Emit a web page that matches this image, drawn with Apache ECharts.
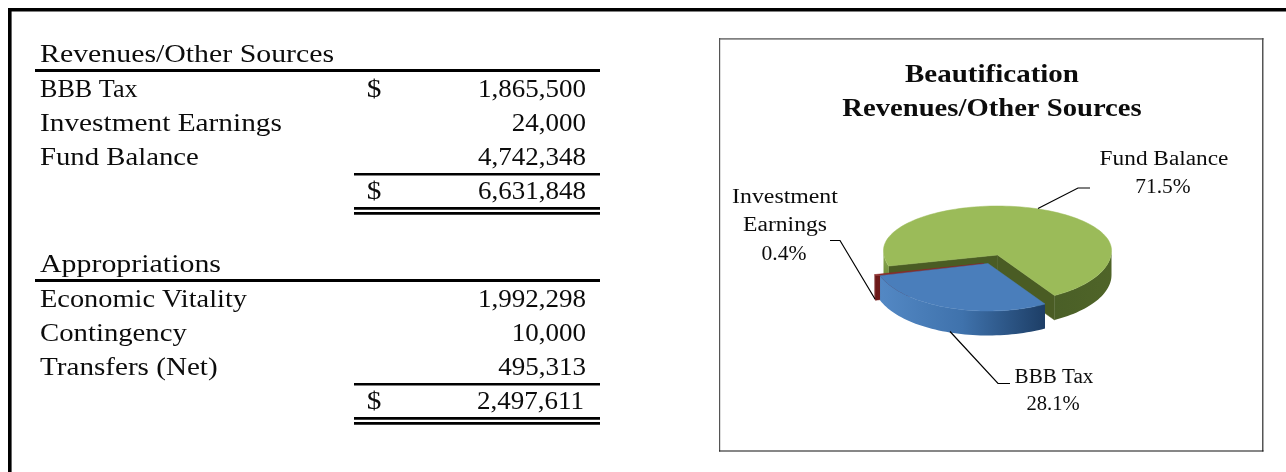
<!DOCTYPE html>
<html>
<head>
<meta charset="utf-8">
<style>html,body{margin:0;padding:0;background:#fff}#c{width:1286px;height:472px}</style>
<script src="https://cdn.jsdelivr.net/npm/echarts@6/dist/echarts.min.js"></script>
</head>
<body>
<div id="c"></div>
<script>
// ---- data ----
const revenueTitle = 'Revenues/Other Sources';
const revenueLabels = ['BBB Tax', 'Investment Earnings', 'Fund Balance'];
const revenueValues = [1865500, 24000, 4742348];
const appropriationTitle = 'Appropriations';
const appropriationLabels = ['Economic Vitality', 'Contingency', 'Transfers (Net)'];
const appropriationValues = [1992298, 10000, 495313];
const chartTitleLines = ['Beautification', 'Revenues/Other Sources'];
const pieLabelLines = [['BBB Tax'], ['Investment', 'Earnings'], ['Fund Balance']];

// ---- styles ----
const FONT = '"Liberation Serif", serif';
const TXT = '#0c0c0c';
const fmt = v => v.toLocaleString('en-US');
const sum = a => a.reduce((s, v) => s + v, 0);
const revTotal = sum(revenueValues);
const appTotal = sum(appropriationValues);

const gfx = [];
function text(str, x, y, size, align, sx, bold) {
  gfx.push({
    type: 'text', x, y, scaleX: sx, silent: true,
    style: { text: str, x: 0, y: 0, fill: TXT, align, verticalAlign: 'middle',
      font: (bold ? 'bold ' : '') + size + 'px ' + FONT }
  });
}
function rect(x, y, w, h, fill) {
  gfx.push({ type: 'rect', silent: true, shape: { x, y, width: w, height: h }, style: { fill } });
}
const SZ = 25.5, NSX = 1.06;

// page frame: left and top only
rect(8, 8, 1278, 3.4, '#000');
rect(8, 8, 3.6, 464, '#000');

function table(title, titleSx, labels, labelSx, values, total, dy, totalRight) {
  const rowYs = [90, 124, 158];
  text(title, 40, 55 + dy, SZ, 'left', titleSx);
  rect(35, 69 + dy, 565, 3, '#000');
  labels.forEach((l, i) => {
    text(l, 40, rowYs[i] + dy, SZ, 'left', labelSx[i]);
    text(fmt(values[i]), 586, rowYs[i] + dy, SZ, 'right', NSX);
  });
  rect(354, 173 + dy, 246, 2.5, '#000');
  text('$', 374, 192 + dy, SZ, 'center', 1.15);
  text(fmt(total), totalRight, 192 + dy, SZ, 'right', NSX);
  rect(354, 207 + dy, 246, 2.8, '#000');
  rect(354, 212 + dy, 246, 2.8, '#000');
}
table(revenueTitle, 1.17, revenueLabels, [1.025, 1.15, 1.127], revenueValues, revTotal, 0, 586);
text('$', 374, 90, SZ, 'center', 1.15);
table(appropriationTitle, 1.172, appropriationLabels, [1.112, 1.127, 1.142], appropriationValues, appTotal, 210, 584);

// chart box
rect(719, 38, 544.5, 1.7, '#808080');
rect(719, 38, 1.2, 413.5, '#555');
rect(1262, 38, 1.5, 413.5, '#555');
rect(719, 450.4, 544.5, 1.2, '#111');
text(chartTitleLines[0], 992, 75, SZ, 'center', 1.137, true);
text(chartTitleLines[1], 992, 109, SZ, 'center', 1.123, true);

// pie labels, percentages come from the values
const pct = i => (revenueValues[i] / revTotal * 100).toFixed(1) + '%';
const LS = 20;
text(pieLabelLines[2][0], 1164, 160, LS, 'center', 1.165);
text(pct(2), 1163, 188, LS, 'center', 1.07);
text(pieLabelLines[1][0], 785, 198, LS, 'center', 1.19);
text(pieLabelLines[1][1], 785, 226, LS, 'center', 1.18);
text(pct(1), 784, 255, LS, 'center', 1.08);
text(pieLabelLines[0][0], 1054, 378, LS, 'center', 1.055);
text(pct(0), 1053, 405, LS, 'center', 1.03);
// leader lines
function leader(pts) {
  gfx.push({ type: 'polyline', silent: true, z: 50, shape: { points: pts }, style: { stroke: '#000', lineWidth: 1.2, fill: 'none' } });
}
leader([[1038, 208.5], [1078, 188], [1090, 188]]);
leader([[830, 240.5], [840, 240.5], [875, 299]]);
leader([[950, 331.5], [998, 383.5], [1010, 383.5]]);

// ---- pie geometry (slight perspective: front half of the ellipse is deeper) ----
const RX = 114, RY_FRONT = 52, RY_BACK = 44.5, DEPTH = 24.5, CX = 997.5, CY = 250.5, APEX = 4.5;
const START = 60;  // screen angle (deg, clockwise from east) of first slice
const explode = [[-9.5, 8.5], [-14, 8.5], [0, 0]];
const G = (stops, x2, y2) => new echarts.graphic.LinearGradient(0, 0, x2, y2, stops.map((c, i) => ({ offset: i / (stops.length - 1), color: c })));
const sliceStyles = [
  { top: '#4a7ebb', wall: () => G(['#5388c4', '#3f72ac', '#1d3e66'], 1, 0), face: '#1d3e66' },
  { top: '#8c2b2a', wall: () => '#6e1a1a', face: '#6e1a1a' },
  { top: '#9bbb59', wall: left => left ? G(['#8fae52', '#5f7a30'], 0, 1) : G(['#4a5f27', '#4f6428'], 1, 0), face: '#4a5c24' }
];
// cumulative start angle per slice (clockwise order: BBB, Investment, Fund)
const starts = [];
revenueValues.reduce((acc, v, i) => { starts[i] = acc; return acc + v / revTotal * 360; }, START);

function arc(cx, cy, a0, a1) {
  const pts = [], n = Math.max(2, Math.ceil(Math.abs(a1 - a0) / 2));
  for (let k = 0; k <= n; k++) {
    const a = (a0 + (a1 - a0) * k / n) * Math.PI / 180;
    const s = Math.sin(a);
    pts.push([cx + RX * Math.cos(a), cy + (s >= 0 ? RY_FRONT : RY_BACK) * s]);
  }
  return pts;
}
function renderSlice(params, api) {
  const idx = api.value(0), val = api.value(1);
  const a0 = starts[idx], a1 = a0 + val / revTotal * 360;
  const cx = CX + explode[idx][0], cy = CY + explode[idx][1];
  const ay = cy + APEX;
  const st = sliceStyles[idx];
  const kids = [];
  const poly = (points, fill, stroke) => kids.push({ type: 'polygon', shape: { points }, style: { fill, stroke: stroke || (typeof fill === 'string' ? fill : 'none'), lineWidth: 0.5 } });
  // straight cut faces turned toward the viewer
  [[a0, a0 - 90], [a1, a1 + 90]].forEach(([a, n]) => {
    if (Math.sin(n * Math.PI / 180) > 0) {
      const r = arc(cx, cy, a, a)[0];
      poly([[cx, ay], r, [r[0], r[1] + DEPTH], [cx, ay + DEPTH]], st.face);
    }
  });
  // outer wall: only the front half (0..180, 360..540) shows
  [[0, 180], [360, 540]].forEach(([lo, hi]) => {
    const b0 = Math.max(a0, lo), b1 = Math.min(a1, hi);
    if (b1 > b0) {
      const top = arc(cx, cy, b0, b1);
      const bot = arc(cx, cy + DEPTH, b1, b0);
      poly(top.concat(bot), st.wall(lo === 0));
    }
  });
  // top surface
  poly([[cx, ay]].concat(arc(cx, cy, a0, a1)), st.top);
  return { type: 'group', children: kids };
}

const chart = echarts.init(document.getElementById('c'), null, { renderer: 'canvas' });
chart.setOption({
  animation: false,
  backgroundColor: '#fff',
  series: [{
    type: 'custom',
    coordinateSystem: 'none',
    silent: true,
    renderItem: renderSlice,
    // painted back to front: Fund Balance, Investment Earnings, BBB Tax
    data: [2, 1, 0].map(i => ({ name: revenueLabels[i], value: [i, revenueValues[i]] })),
    z: 10
  }],
  graphic: { elements: gfx }
});
</script>
</body>
</html>
